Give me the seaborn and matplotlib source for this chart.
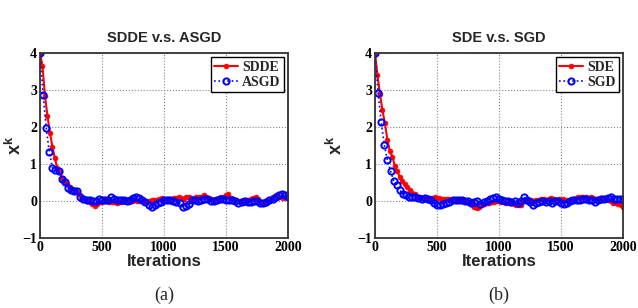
#%% Importing libraries
import numpy as np
import pandas as pd
import seaborn as sns
import matplotlib.pyplot as plt

#%% Data
# red series sampled every 20 iterations, blue series every 25
iters_red = np.arange(0, 2001, 20)
iters_blue = np.arange(0, 2001, 25)

sdde = [4.0, 3.65, 2.85, 2.3, 1.85, 1.47, 1.15, 0.9, 0.78, 0.6,
        0.48, 0.45, 0.38, 0.33, 0.3, 0.25, 0.15, 0.08, 0.03, 0.0,
        -0.02, -0.08, -0.13, -0.08, -0.03, -0.02, 0.0, 0.0, -0.02, -0.03,
        -0.03, -0.05, -0.04, -0.02, 0.0, 0.02, -0.02, 0.0, 0.02, 0.0,
        0.0, 0.0, -0.03, -0.02, 0.0, 0.02, 0.03, 0.03, 0.05, 0.07,
        0.05, 0.04, 0.06, 0.05, 0.08, 0.07, 0.1, 0.08, 0.05, 0.1,
        0.12, 0.08, 0.05, 0.1, 0.12, 0.12, 0.15, 0.1, 0.08, 0.05,
        0.03, 0.05, 0.08, 0.1, 0.1, 0.15, 0.2, 0.08, 0.05, 0.02,
        0.0, 0.0, 0.02, 0.03, 0.03, 0.06, 0.08, 0.1, 0.05, -0.02,
        -0.05, -0.05, 0.0, 0.05, 0.1, 0.15, 0.12, 0.1, 0.08, 0.1,
        0.08]

asgd = [4.0, 2.87, 1.98, 1.32, 0.9, 0.85, 0.8, 0.6, 0.52, 0.36,
        0.31, 0.28, 0.26, 0.12, 0.05, 0.02, 0.02, 0.0, 0.0, 0.05,
        0.04, 0.04, 0.02, 0.1, 0.06, 0.04, 0.02, 0.03, 0.0, 0.04,
        0.08, 0.1, 0.08, 0.04, -0.02, -0.1, -0.15, -0.1, -0.06, -0.02,
        0.02, 0.04, 0.03, 0.0, -0.03, -0.05, -0.15, -0.14, -0.08, 0.02,
        0.02, 0.0, 0.04, 0.06, 0.05, 0.0, -0.01, 0.02, 0.06, 0.05,
        0.04, 0.03, 0.02, 0.0, -0.06, -0.02, -0.01, -0.03, -0.02, -0.01,
        0.0, -0.06, -0.05, -0.02, 0.03, 0.06, 0.12, 0.15, 0.2, 0.15,
        0.1]

sde = [4.0, 3.4, 2.9, 2.45, 2.1, 1.65, 1.35, 1.2, 0.95, 0.8,
       0.65, 0.55, 0.45, 0.38, 0.3, 0.22, 0.18, 0.12, 0.1, 0.08,
       0.05, 0.03, 0.05, 0.08, 0.1, 0.08, 0.08, 0.06, 0.05, 0.05,
       0.05, 0.03, 0.02, 0.0, 0.02, 0.0, 0.0, -0.02, -0.05, -0.08,
       -0.15, -0.18, -0.15, -0.1, -0.08, -0.05, -0.05, -0.03, -0.02, 0.0,
       0.0, -0.02, -0.03, -0.05, -0.05, -0.05, -0.07, -0.1, -0.12, -0.1,
       0.0, 0.0, 0.02, 0.03, 0.0, 0.02, 0.03, 0.05, 0.05, 0.03,
       0.05, 0.08, 0.05, 0.03, 0.05, 0.03, 0.05, 0.02, 0.0, 0.05,
       0.05, 0.08, 0.1, 0.12, 0.1, 0.1, 0.08, 0.12, 0.08, 0.05,
       0.05, 0.03, 0.05, 0.08, 0.02, 0.0, -0.05, -0.05, -0.08, -0.1,
       -0.15]

sgd = [4.0, 2.92, 2.13, 1.52, 1.1, 0.82, 0.55, 0.42, 0.3, 0.18,
       0.15, 0.1, 0.12, 0.1, 0.08, 0.05, 0.08, 0.05, 0.02, -0.05,
       -0.1, -0.1, -0.08, -0.05, -0.02, 0.02, 0.03, 0.03, 0.02, 0.0,
       0.0, -0.05, -0.02, 0.0, -0.08, -0.02, 0.0, 0.05, 0.08, 0.1,
       0.05, 0.02, 0.0, 0.0, -0.02, 0.0, -0.05, 0.0, 0.1, 0.02,
       -0.02, -0.1, -0.05, -0.02, 0.0, -0.03, 0.0, -0.05, 0.0, 0.0,
       -0.05, -0.08, -0.05, 0.0, 0.02, 0.03, 0.02, 0.05, 0.05, 0.02,
       0.03, -0.03, 0.02, 0.05, 0.05, 0.08, 0.1, 0.05, 0.05, 0.05,
       0.05]

panels = [("SDDE v.s. ASGD", "SDDE", sdde, "ASGD", asgd, "(a)"),
          ("SDE v.s. SGD", "SDE", sde, "SGD", sgd, "(b)")]

#%% Plot
sns.set_style("white")
plt.rcParams['mathtext.fontset'] = 'custom'
plt.rcParams['mathtext.bf'] = 'Liberation Sans:bold'
plt.rcParams['mathtext.rm'] = 'Liberation Sans'

fig = plt.figure(figsize=(6.38, 3.08), dpi=100)
lefts = [40 / 638, 375 / 638]
ylab_x = [-0.06, -0.115]
tick_font = dict(family='Liberation Serif', weight='bold', size=10)

for left, lx, (title, red_name, red_vals, blue_name, blue_vals, tag) in zip(lefts, ylab_x, panels):
    ax = fig.add_axes([left, 70 / 308, 248 / 638, 185 / 308])
    red_df = pd.DataFrame({'Iterations': iters_red, 'x': red_vals})
    blue_df = pd.DataFrame({'Iterations': iters_blue, 'x': blue_vals})

    sns.lineplot(data=red_df, x='Iterations', y='x', ax=ax, color='red',
                 linewidth=1.5, marker='.', markersize=7,
                 markeredgecolor='red', markeredgewidth=0.5, label=red_name)
    sns.lineplot(data=blue_df, x='Iterations', y='x', ax=ax, color='blue',
                 linewidth=1.2, linestyle=':', marker='o', markersize=4.5,
                 markerfacecolor='none', markeredgecolor='blue',
                 markeredgewidth=1.4, label=blue_name)

    ax.set_xlim(0, 2000)
    ax.set_ylim(-1, 4)
    ax.set_xticks([0, 500, 1000, 1500, 2000])
    ax.set_yticks([-1, 0, 1, 2, 3, 4])
    ax.set_xticklabels(['0', '500', '1000', '1500', '2000'], fontdict=tick_font)
    ax.set_yticklabels(['\u22121', '0', '1', '2', '3', '4'], fontdict=tick_font)
    ax.tick_params(direction='in', length=3, width=0.8, pad=2, colors='black')
    ax.grid(True, linestyle=':', color='#888888', linewidth=0.8)
    for sp in ax.spines.values():
        sp.set_color('#333333')
        sp.set_linewidth(1.3)

    ax.set_title(title, fontsize=10.5, fontweight='bold', family='Liberation Sans', pad=8)
    ax.set_xlabel('Iterations', fontsize=12, fontweight='bold', family='Liberation Sans', labelpad=0)
    ax.set_ylabel(r'$\mathbf{x}^{\mathbf{k}}$', fontsize=13)
    ax.yaxis.set_label_coords(lx, 0.5)

    leg = ax.legend(loc='upper right', fancybox=False, framealpha=1,
                    edgecolor='black', handlelength=1.7, borderpad=0.25,
                    labelspacing=0.15, handletextpad=0.3, borderaxespad=0.3,
                    prop=dict(family='Liberation Serif', weight='bold', size=10))
    leg.get_frame().set_linewidth(1.0)

    fig.text(left + 124 / 638, 13 / 308, tag, ha='center', va='center',
             family='Liberation Serif', fontsize=13)

fig.savefig('out.png', dpi=100)
